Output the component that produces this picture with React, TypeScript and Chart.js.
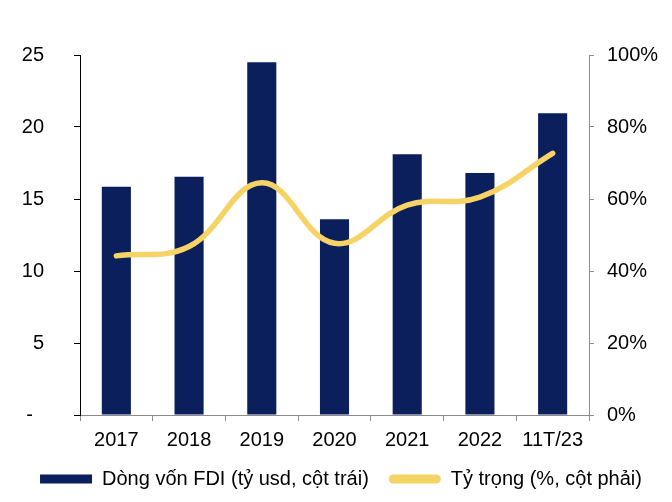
import React, { useEffect, useRef } from 'react';
import { Chart, registerables } from 'chart.js';

Chart.register(...registerables);

const categories = ['2017', '2018', '2019', '2020', '2021', '2022', '11T/23'];
const fdiFlow = [15.85, 16.55, 24.5, 13.6, 18.1, 16.8, 20.95];
const sharePct = [44.2, 46.8, 64.5, 47.7, 58.3, 60.5, 72.7];
const leftTickLabels = ['-  ', '5', '10', '15', '20', '25'];
const rightTickLabels = ['0%', '20%', '40%', '60%', '80%', '100%'];
const seriesNames = ['Dòng vốn FDI (tỷ usd, cột trái)', 'Tỷ trọng (%, cột phải)'];

const NAVY = '#0A1F5B';
const YELLOW = '#F6D365';
const GRAY = '#8C8C8C';
const FONT = { family: "'Liberation Sans', Arial, sans-serif", size: 20 };

export default function App() {
  const ref = useRef<HTMLCanvasElement | null>(null);

  useEffect(() => {
    if (!ref.current) return;
    const chart = new Chart(ref.current, {
      type: 'bar',
      data: {
        labels: categories,
        datasets: [
          {
            type: 'bar',
            label: seriesNames[0],
            data: fdiFlow,
            backgroundColor: NAVY,
            borderWidth: 0,
            categoryPercentage: 1,
            barPercentage: 0.4,
            yAxisID: 'y',
            order: 1,
          },
          {
            type: 'line',
            label: seriesNames[1],
            data: sharePct,
            borderColor: YELLOW,
            backgroundColor: YELLOW,
            borderWidth: 5.5,
            borderCapStyle: 'round',
            borderJoinStyle: 'round',
            pointRadius: 0,
            tension: 0.4,
            yAxisID: 'y1',
            order: 0,
          },
        ] as any,
      },
      options: {
        responsive: false,
        animation: false,
        layout: { padding: { top: 55, bottom: 3, left: 10, right: 0 } },
        plugins: {
          tooltip: { enabled: false },
          legend: {
            position: 'bottom',
            labels: {
              font: FONT,
              color: '#000',
              boxWidth: 52,
              boxHeight: 9,
              padding: 20,
              useBorderRadius: true,
              sort: (a: any, b: any) => a.datasetIndex - b.datasetIndex,
              generateLabels: (chart: any) => {
                const items = Chart.defaults.plugins.legend.labels.generateLabels(chart);
                return items.map((it: any) => ({
                  ...it,
                  lineWidth: 0,
                  strokeStyle: 'rgba(0,0,0,0)',
                  fillStyle: it.datasetIndex === 1 ? YELLOW : NAVY,
                  borderRadius: it.datasetIndex === 1 ? 4.5 : 0,
                }));
              },
            },
          },
        },
        scales: {
          x: {
            grid: { offset: true, drawOnChartArea: false, drawTicks: true, tickLength: 6, color: GRAY },
            border: { display: true, color: GRAY, width: 1 },
            ticks: { color: '#000', font: FONT, padding: 7, maxRotation: 0, autoSkip: false },
            afterFit: (s: any) => { s.height = 34; },
          },
          y: {
            position: 'left',
            min: 0,
            max: 25,
            grid: { drawOnChartArea: false, drawTicks: true, tickLength: 6, color: '#000' },
            border: { display: true, color: '#000', width: 1 },
            ticks: {
              stepSize: 5,
              color: '#000',
              font: FONT,
              padding: 30,
              callback: (_v: any, i: number) => leftTickLabels[i],
            },
            afterFit: (s: any) => { s.width = 70; },
          },
          y1: {
            position: 'right',
            min: 0,
            max: 100,
            grid: { drawOnChartArea: false, drawTicks: true, tickLength: 5, color: GRAY },
            border: { display: true, color: GRAY, width: 1 },
            ticks: {
              stepSize: 20,
              color: '#000',
              font: FONT,
              padding: 13,
              callback: (_v: any, i: number) => rightTickLabels[i],
            },
            afterFit: (s: any) => { s.width = 83; },
          },
        },
      } as any,
    });
    return () => chart.destroy();
  }, []);

  return (
    <div style={{ position: 'fixed', left: 0, top: 0, width: 672, height: 502, background: '#fff' }}>
      <canvas ref={ref} width={672} height={502} style={{ display: 'block' }} />
    </div>
  );
}
